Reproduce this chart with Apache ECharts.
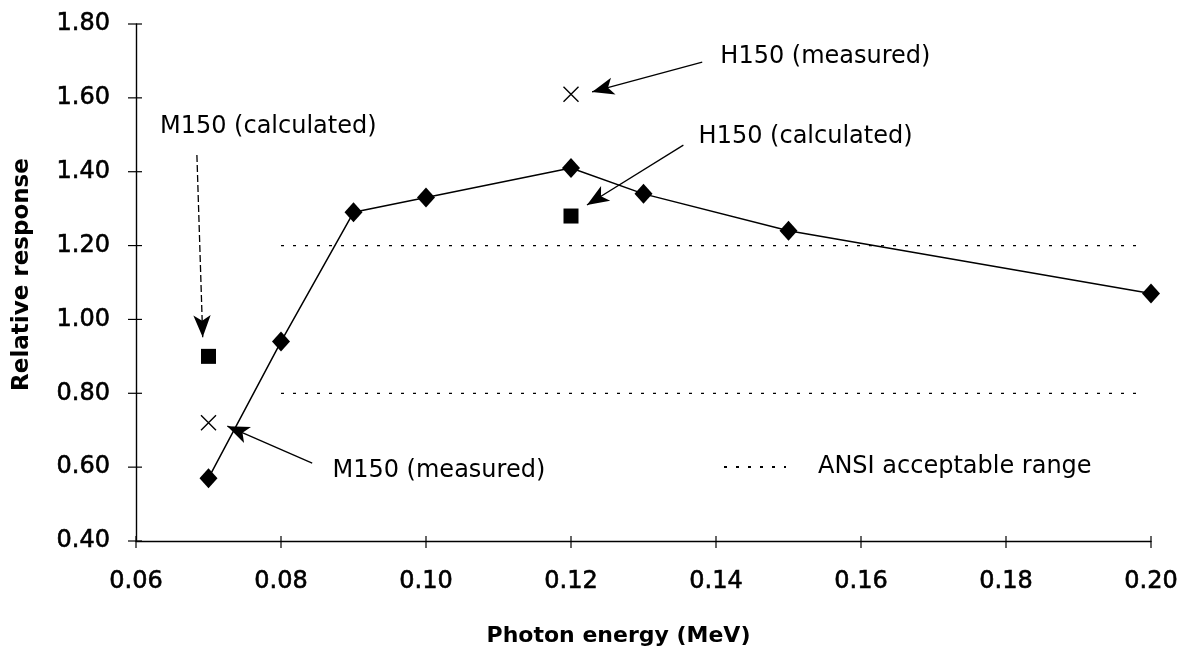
<!DOCTYPE html>
<html>
<head>
<meta charset="utf-8">
<script src="https://cdn.jsdelivr.net/npm/echarts@6/dist/echarts.min.js"></script>
<style>
  html, body { margin: 0; padding: 0; background: #fff; }
  #chart { width: 1186px; height: 656px; }
</style>
</head>
<body>
<div id="chart"></div>
<script>
// Photon energy (MeV) and relative response of the dosimeter
const energy = [0.07, 0.08, 0.09, 0.10, 0.12, 0.13, 0.15, 0.20];
const response = [0.57, 0.94, 1.29, 1.33, 1.41, 1.34, 1.24, 1.07];

// Calculated points (M150 at 0.07 MeV, H150 at 0.12 MeV)
const calcEnergy = [0.07, 0.12];
const calcResponse = [0.90, 1.28];

// Measured points (M150 at 0.07 MeV, H150 at 0.12 MeV)
const measEnergy = [0.07, 0.12];
const measResponse = [0.72, 1.61];

// ANSI acceptable range limits and the energy span they are drawn over
const ansiLimits = [0.80, 1.20];
const ansiSpan = [0.08, 0.199];

// Axis ranges and tick values
const xRange = [0.06, 0.20, 0.02];
const yRange = [0.40, 1.80, 0.20];
const xTicks = [0.06, 0.08, 0.10, 0.12, 0.14, 0.16, 0.18, 0.20];
const yTicks = [0.40, 0.60, 0.80, 1.00, 1.20, 1.40, 1.60, 1.80];

const FONT = 'DejaVu Sans';
const BLACK = '#000';

const zip = (xs, ys) => xs.map((x, i) => [x, ys[i]]);

// Call-out texts: anchor (energy, response) of the text's left edge
const notes = [
  { text: 'M150 (calculated)', at: [0.0633, 1.521] },
  { text: 'M150 (measured)',   at: [0.0871, 0.590] },
  { text: 'H150 (measured)',   at: [0.1406, 1.711] },
  { text: 'H150 (calculated)', at: [0.1376, 1.494] }
];

// Call-out arrows: from tail to head, in data coordinates
const arrows = [
  { from: [0.0684, 1.445], to: [0.0692, 0.952], dashed: true },
  { from: [0.0843, 0.611], to: [0.0726, 0.711] },
  { from: [0.1381, 1.697], to: [0.1229, 1.616] },
  { from: [0.1355, 1.472], to: [0.1222, 1.310] }
];

const xMark = 'path://M0,0 L10,10 M10,0 L0,10';

const chart = echarts.init(document.getElementById('chart'), null, { renderer: 'canvas' });

const tickLabel = {
  fontFamily: FONT, fontSize: 24, color: BLACK,
  textBorderColor: BLACK, textBorderWidth: 0.6,
  formatter: v => v.toFixed(2)
};

const axisLineStyle = { show: true, lineStyle: { color: BLACK, width: 1.4 } };

const ansiSeries = ansiLimits.map(lim => ({
  name: 'ANSI acceptable range',
  type: 'line',
  data: ansiSpan.map(e => [e, lim]),
  symbol: 'none',
  itemStyle: { color: BLACK },
  lineStyle: { color: BLACK, width: 1.2, type: [3, 9] },
  silent: true,
  z: 1
}));

// Tick marks that cross the axis line (half outside, half inside)
function crossTick(horizontal, out, inn) {
  return function (params, api) {
    const p = api.coord([api.value(0), api.value(1)]);
    const shape = horizontal
      ? { x1: p[0] - out, y1: p[1], x2: p[0] + inn, y2: p[1] }
      : { x1: p[0], y1: p[1] - inn, x2: p[0], y2: p[1] + out };
    return { type: 'line', shape, style: { stroke: BLACK, lineWidth: 1.2 } };
  };
}

chart.setOption({
  animation: false,
  backgroundColor: '#fff',
  grid: { left: 136, right: 35, top: 24, bottom: 115, containLabel: false },
  legend: {
    data: ['ANSI acceptable range'],
    left: 718, top: 450,
    itemWidth: 62, itemHeight: 14,
    itemStyle: { opacity: 0 },
    textStyle: { fontFamily: FONT, fontSize: 24, color: BLACK, padding: [0, 0, 0, 27] },
    selectedMode: false
  },
  xAxis: {
    type: 'value', min: xRange[0], max: xRange[1], interval: xRange[2],
    name: 'Photon energy (MeV)', nameLocation: 'middle', nameGap: 84,
    nameTextStyle: {
      fontFamily: FONT, fontSize: 22, fontWeight: 'bold', color: BLACK,
      padding: [0, 50, 0, 0]
    },
    axisLine: axisLineStyle,
    axisTick: { show: false },
    axisLabel: Object.assign({ margin: 29 }, tickLabel),
    splitLine: { show: false }
  },
  yAxis: {
    type: 'value', min: yRange[0], max: yRange[1], interval: yRange[2],
    name: 'Relative response', nameLocation: 'middle', nameGap: 102,
    nameTextStyle: {
      fontFamily: FONT, fontSize: 23, fontWeight: 'bold', color: BLACK,
      padding: [0, 0, 0, 16]
    },
    axisLine: axisLineStyle,
    axisTick: { show: false },
    axisLabel: Object.assign({ margin: 26 }, tickLabel),
    splitLine: { show: false }
  },
  series: [
    ...ansiSeries,
    {
      name: 'Response',
      type: 'line',
      data: zip(energy, response),
      symbol: 'diamond', symbolSize: [18, 20],
      lineStyle: { color: BLACK, width: 1.5 },
      itemStyle: { color: BLACK },
      z: 3
    },
    {
      name: 'Calculated',
      type: 'scatter',
      data: zip(calcEnergy, calcResponse),
      symbol: 'rect', symbolSize: 15,
      itemStyle: { color: BLACK, opacity: 1 },
      z: 4
    },
    {
      name: 'Measured',
      type: 'scatter',
      data: zip(measEnergy, measResponse),
      symbol: xMark, symbolSize: 15,
      itemStyle: { color: 'transparent', borderColor: BLACK, borderWidth: 1.4, opacity: 1 },
      z: 4
    },
    {
      name: 'Notes',
      type: 'scatter',
      data: notes.map(n => ({ value: n.at, name: n.text })),
      symbolSize: 0,
      itemStyle: { opacity: 1 },
      label: {
        show: true, position: 'right', distance: 0,
        formatter: p => p.name,
        fontFamily: FONT, fontSize: 24, color: BLACK
      },
      silent: true,
      markLine: {
        silent: true,
        symbol: ['none', 'arrow'],
        symbolSize: [13, 22],
        label: { show: false },
        data: arrows.map(a => [
          { coord: a.from, lineStyle: { type: a.dashed ? [7, 3] : 'solid' } },
          { coord: a.to }
        ]),
        lineStyle: { color: BLACK, width: 1.3 },
        itemStyle: { color: BLACK }
      },
      z: 5
    },
    {
      name: 'X ticks',
      type: 'custom',
      data: xTicks.map(v => [v, yRange[0]]),
      renderItem: crossTick(false, 7, 5),
      clip: false, silent: true, z: 6
    },
    {
      name: 'Y ticks',
      type: 'custom',
      data: yTicks.map(v => [xRange[0], v]),
      renderItem: crossTick(true, 8, 6),
      clip: false, silent: true, z: 6
    }
  ]
});
</script>
</body>
</html>
